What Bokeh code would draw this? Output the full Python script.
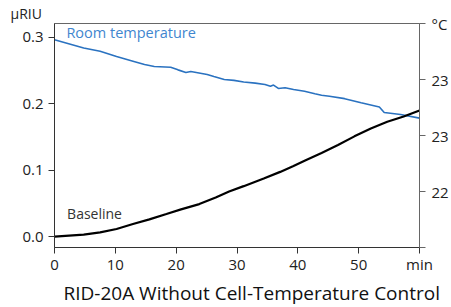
from bokeh.plotting import figure
from bokeh.models import Range1d, LinearAxis, FixedTicker, Label, Title
from bokeh.embed import file_html
from bokeh.resources import INLINE

# Baseline (µRIU, left axis)
base_t = [0, 4.8, 7.5, 10.2, 12.9, 15.6, 18.4, 20.8, 23.8, 26.5, 28.7, 31.1, 34.4, 37.1,
          39.2, 41.2, 43.9, 46.6, 49.3, 52.0, 54.7, 57.4, 60.0]
base_v = [0.000, 0.003, 0.0064, 0.0115, 0.019, 0.026, 0.034, 0.041, 0.049, 0.059, 0.068,
          0.076, 0.0875, 0.0975, 0.106, 0.1145, 0.126, 0.138, 0.151, 0.163, 0.173, 0.181,
          0.190]

# Room temperature (°C, right axis)
room_t = [0, 4.8, 7.5, 10.2, 12.9, 14.8, 16.4, 19.1, 20.3, 21.6, 22.4, 25.1, 26.2, 27.9,
          29.5, 31.1, 33.0, 34.6, 35.5, 36.0, 36.8, 37.9, 39.3, 41.1, 42.8, 43.9, 45.2,
          47.7, 50.4, 53.4, 54.2, 56.9, 60.0]
room_v = [23.855, 23.781, 23.752, 23.705, 23.663, 23.634, 23.616, 23.610, 23.586, 23.563,
          23.572, 23.545, 23.527, 23.500, 23.492, 23.477, 23.468, 23.456, 23.440, 23.450,
          23.420, 23.427, 23.410, 23.395, 23.373, 23.359, 23.350, 23.329, 23.293, 23.255,
          23.205, 23.187, 23.155]

x_ticks = [0, 10, 20, 30, 40, 50, 60]
x_tick_labels = ["0", "10", "20", "30", "40", "50", "min"]
left_ticks = [0.0, 0.1, 0.2, 0.3]
left_tick_labels = ["0.0", "0.1", "0.2", "0.3"]
right_ticks = [22.0, 22.5, 23.0, 23.5, 24.0]
right_tick_labels = ["", "22", "23", "23", "°C"]

FONT = "Open Sans"

p = figure(width=451, height=307, output_backend="svg", toolbar_location=None,
           x_range=Range1d(0, 60), y_range=Range1d(-0.0164, 0.321),
           min_border_left=54, min_border_right=29, min_border_top=21, min_border_bottom=60)
p.extra_y_ranges = {"temp": Range1d(22.0, 24.0)}
p.grid.visible = False
p.outline_line_color = "#666666"
p.background_fill_color = "white"
p.border_fill_color = "white"

for ax in [p.xaxis[0], p.yaxis[0]]:
    ax.axis_line_color = "#333333"
    ax.major_tick_line_color = "#333333"
    ax.major_tick_out = 6
    ax.major_tick_in = 0
    ax.minor_tick_line_color = None
    ax.major_label_text_font = FONT
    ax.major_label_text_font_size = "15px"
    ax.major_label_text_color = "#222222"

p.xaxis[0].ticker = FixedTicker(ticks=x_ticks)
p.xaxis[0].major_label_overrides = {t: l for t, l in zip(x_ticks, x_tick_labels)}
p.xaxis[0].major_label_standoff = 0
p.yaxis[0].ticker = FixedTicker(ticks=left_ticks)
p.yaxis[0].major_label_overrides = {t: l for t, l in zip(left_ticks, left_tick_labels)}
p.yaxis[0].major_label_standoff = 5

rax = LinearAxis(y_range_name="temp")
rax.ticker = FixedTicker(ticks=right_ticks)
rax.major_label_overrides = {t: l for t, l in zip(right_ticks, right_tick_labels)}
rax.axis_line_color = "#666666"
rax.major_tick_line_color = "#666666"
rax.major_tick_out = 6
rax.major_tick_in = 0
rax.minor_tick_line_color = None
rax.major_label_standoff = 6
rax.major_label_text_font = FONT
rax.major_label_text_font_size = "15px"
rax.major_label_text_color = "#222222"
p.add_layout(rax, "right")

p.line(room_t, room_v, y_range_name="temp", line_color="#2a72c0", line_width=1.6)
p.line(base_t, base_v, line_color="black", line_width=2.2)

def lab(x, y, text, size, color="#222222"):
    p.add_layout(Label(x=x, y=y, text=text, text_font=FONT, text_font_size=size,
                       text_color=color, text_align="left", text_baseline="middle"))

lab(1.96, 0.3067, "Room temperature", "14.5px", "#3f86cf")
lab(2.07, 0.0346, "Baseline", "14px", "#333333")

unit_title = Title(text="µRIU", align="left", offset=-44, standoff=2,
                   text_font=FONT, text_font_size="14px", text_font_style="normal",
                   text_color="#222222")
p.add_layout(unit_title, "above")

main_title = Title(text="RID-20A Without Cell-Temperature Control", align="left",
                   offset=9, standoff=2, text_font=FONT, text_font_size="19px",
                   text_font_style="normal", text_color="#111111")
p.add_layout(main_title, "below")

open("out.html", "w").write(file_html(p, INLINE))
